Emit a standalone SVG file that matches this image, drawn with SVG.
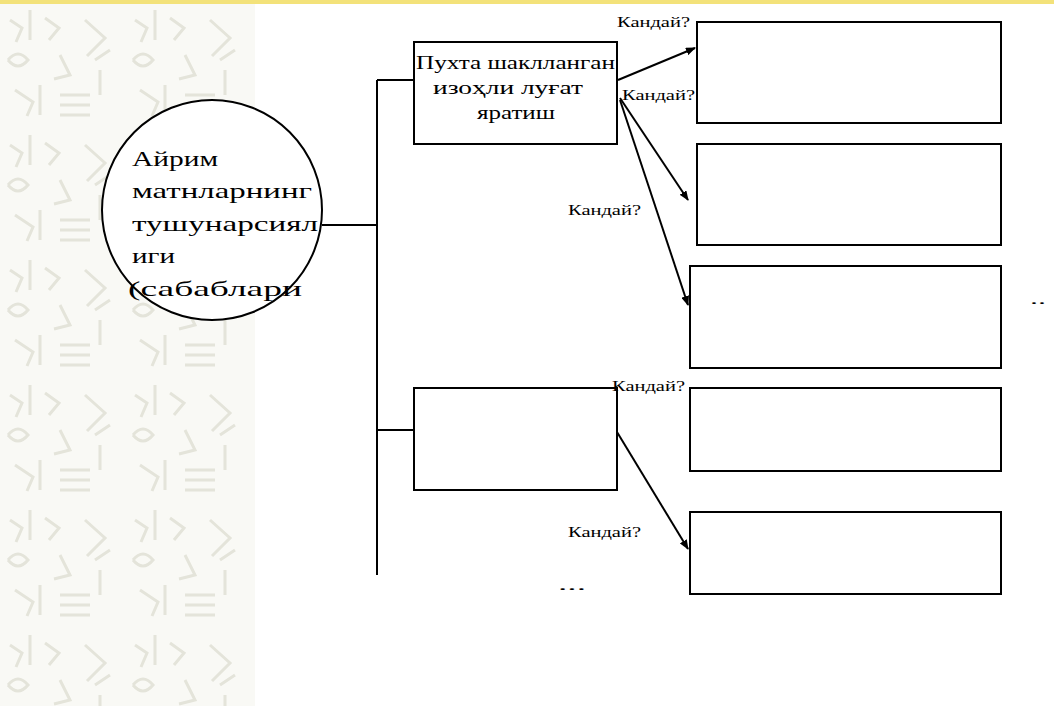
<svg xmlns="http://www.w3.org/2000/svg" width="1054" height="706" viewBox="0 0 1054 706">
<defs>
<marker id="ah" markerWidth="10" markerHeight="8" refX="9" refY="4" orient="auto" markerUnits="userSpaceOnUse">
<path d="M0,0 L10,4 L0,8 z" fill="#000"/>
</marker>
<pattern id="orn" x="0" y="0" width="125" height="125" patternUnits="userSpaceOnUse">
<g fill="none" stroke="#e4e4da" stroke-width="3">
<path d="M10,20 l12,8 l-6,14 M30,10 l0,30 M45,18 l14,10 l-10,12"/>
<path d="M8,60 q10,-12 20,0 q-10,12 -20,0 M60,55 l10,20 l-16,4"/>
<path d="M85,20 l20,18 l-18,18 M95,60 l15,-10 M100,70 l0,25"/>
<path d="M15,90 l18,12 l-6,14 M40,85 l0,30 M60,95 h30 M60,105 h30 M60,115 h30"/>
</g>
</pattern>
<style>
.bx{fill:#fff;stroke:#000;stroke-width:2}
.ln{fill:none;stroke:#000;stroke-width:2}
.ar{fill:none;stroke:#000;stroke-width:2;marker-end:url(#ah)}
.lb{font-family:"Liberation Serif","DejaVu Serif",serif;font-size:14px;fill:#000}
.tx{font-family:"Liberation Serif","DejaVu Serif",serif;fill:#000}
</style>
</defs>
<rect x="0" y="0" width="1054" height="706" fill="#fff"/>
<rect x="0" y="0" width="255" height="706" fill="#f9f9f5"/>
<rect x="0" y="0" width="255" height="706" fill="url(#orn)"/>
<rect x="0" y="0" width="1054" height="4" fill="#f3e27a"/>

<g id="connectors">
<line class="ln" x1="322" y1="225" x2="377" y2="225"/>
<line class="ln" x1="377" y1="80" x2="377" y2="575"/>
<line class="ln" x1="377" y1="80" x2="414" y2="80"/>
<line class="ln" x1="377" y1="430" x2="414" y2="430"/>
<line class="ar" x1="618" y1="80" x2="695" y2="48"/>
<line class="ar" x1="620" y1="98" x2="688" y2="200"/>
<line class="ar" x1="620" y1="100" x2="688" y2="305"/>
<line class="ar" x1="617" y1="432" x2="688" y2="549"/>
</g>

<g id="circle-node">
<circle cx="212" cy="210" r="110" fill="#fff" stroke="#000" stroke-width="2"/>
<text class="tx" font-size="22" lengthAdjust="spacingAndGlyphs">
<tspan x="132" y="166" textLength="86" lengthAdjust="spacingAndGlyphs">Айрим</tspan>
</text>
<text class="tx" font-size="22" x="132" y="198" textLength="180" lengthAdjust="spacingAndGlyphs">матнларнинг</text>
<text class="tx" font-size="22" x="132" y="231" textLength="186" lengthAdjust="spacingAndGlyphs">тушунарсиял</text>
<text class="tx" font-size="22" x="132" y="263" textLength="43" lengthAdjust="spacingAndGlyphs">иги</text>
<text class="tx" font-size="22" x="128" y="296" textLength="174" lengthAdjust="spacingAndGlyphs">(сабаблари</text>
</g>

<g id="box1">
<rect class="bx" x="414" y="42" width="203" height="102"/>
<text class="tx" font-size="18" x="416" y="69" textLength="199" lengthAdjust="spacingAndGlyphs">Пухта шаклланган</text>
<text class="tx" font-size="18" x="433" y="94" textLength="150" lengthAdjust="spacingAndGlyphs">изоҳли луғат</text>
<text class="tx" font-size="18" x="477" y="119" textLength="78" lengthAdjust="spacingAndGlyphs">яратиш</text>
</g>
<g id="box2"><rect class="bx" x="414" y="388" width="203" height="102"/></g>
<g id="r1"><rect class="bx" x="697" y="22" width="304" height="101"/></g>
<g id="r2"><rect class="bx" x="697" y="144" width="304" height="101"/></g>
<g id="r3"><rect class="bx" x="690" y="266" width="311" height="102"/></g>
<g id="r4"><rect class="bx" x="690" y="388" width="311" height="83"/></g>
<g id="r5"><rect class="bx" x="690" y="512" width="311" height="82"/></g>

<g id="labels">
<text class="lb" x="617" y="27" textLength="73" lengthAdjust="spacingAndGlyphs">Кандай?</text>
<text class="lb" x="622" y="100" textLength="73" lengthAdjust="spacingAndGlyphs">Кандай?</text>
<text class="lb" x="568" y="215" textLength="73" lengthAdjust="spacingAndGlyphs">Кандай?</text>
<text class="lb" x="612" y="391" textLength="73" lengthAdjust="spacingAndGlyphs">Кандай?</text>
<text class="lb" x="568" y="537" textLength="73" lengthAdjust="spacingAndGlyphs">Кандай?</text>
<text class="lb" x="558" y="590" textLength="28" lengthAdjust="spacingAndGlyphs">...</text>
<text class="lb" x="1030" y="304" textLength="16" lengthAdjust="spacingAndGlyphs">..</text>
</g>
</svg>
